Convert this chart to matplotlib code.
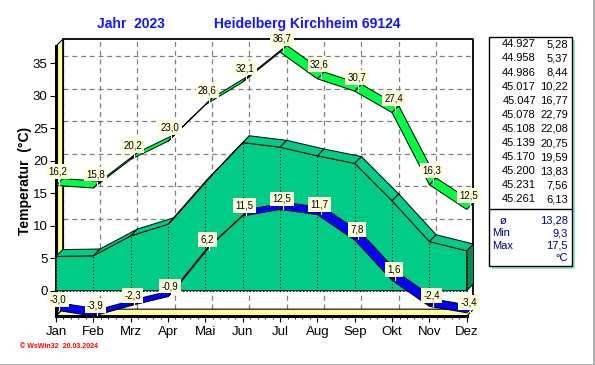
import numpy as np
import matplotlib.pyplot as plt
from matplotlib.patches import Polygon, Rectangle
from matplotlib.lines import Line2D

plt.rcParams['font.family'] = ['Liberation Sans', 'DejaVu Sans']

# ── Data ───────────────────────────────────────────────────────────────────────
months   = ['Jan', 'Feb', 'Mrz', 'Apr', 'Mai', 'Jun', 'Jul', 'Aug', 'Sep', 'Okt', 'Nov', 'Dez']
t_max    = [16.2, 15.8, 20.2, 23.0, 28.6, 32.1, 36.7, 32.6, 30.7, 27.4, 16.3, 12.5]
t_min    = [-3.0, -3.9, -2.3, -0.9, 6.2, 11.5, 12.5, 11.7, 7.8, 1.6, -2.4, -3.4]
t_mean   = [5.28, 5.37, 8.44, 10.22, 16.77, 22.79, 22.08, 20.75, 19.59, 13.83, 7.56, 6.13]
day_nums = ['44.927', '44.958', '44.986', '45.017', '45.047', '45.078',
            '45.108', '45.139', '45.170', '45.200', '45.231', '45.261']
stat_lbl = ['ø', 'Min', 'Max']
stat_val = ['13,28', '9,3', '17,5']

# ── 3D look ────────────────────────────────────────────────────────────────────
DX, DY = 0.18, 1.05          # depth offset (months, degrees)
YBOT, YTOP = -3.89, 38.68
XMAX = 11 + DX

W, H = 595, 365
fig = plt.figure(figsize=(W / 100, H / 100), dpi=100)
ax = fig.add_axes([56 / W, (H - 316) / H, (473.5 - 56) / W, (316 - 39.3) / H])
ax.set_xlim(0, XMAX)
ax.set_ylim(YBOT, YTOP)
for s in ax.spines.values():
    s.set_visible(False)

x = np.arange(12)

# back wall grid
for v in range(0, 40, 5):
    ax.plot([DX, XMAX], [v + DY, v + DY], color='#808080', lw=0.9, ls=(0, (4, 3)), zorder=1)
for m in x:
    ax.plot([m + DX, m + DX], [YBOT + DY, YTOP], color='#808080', lw=0.9, ls=(0, (4, 3)), zorder=1)

# frame of back wall
ax.plot([DX, XMAX, XMAX], [YTOP, YTOP, YBOT + DY], color='black', lw=1.3, zorder=2, clip_on=False)
ax.plot([DX, DX], [YBOT + DY, YTOP], color='black', lw=0.8, zorder=2)

# left wall and floor
ax.add_patch(Polygon([(0, YBOT), (0, YTOP - DY), (DX, YTOP), (DX, YBOT + DY)],
                     fc='#FFFF99', ec='black', lw=0.8, zorder=2, clip_on=False))
ax.add_patch(Polygon([(0, YBOT), (11, YBOT), (XMAX, YBOT + DY), (DX, YBOT + DY)],
                     fc='#FFFF99', ec='black', lw=0.8, zorder=2, clip_on=False))
ax.plot([0, 0], [YBOT, YTOP - DY], color='black', lw=2.2, zorder=3, clip_on=False)
ax.plot([0, 11], [YBOT, YBOT], color='black', lw=2.2, zorder=3, clip_on=False)

# mean area (3D)
front = [(0, 0)] + list(zip(x, t_mean)) + [(11, 0)]
ax.add_patch(Polygon(front, fc='#00CC88', ec='black', lw=0.7, zorder=4))
for i in range(11):
    quad = [(x[i], t_mean[i]), (x[i + 1], t_mean[i + 1]),
            (x[i + 1] + DX, t_mean[i + 1] + DY), (x[i] + DX, t_mean[i] + DY)]
    ax.add_patch(Polygon(quad, fc='#00CC88', ec='black', lw=0.7, zorder=4))
ax.add_patch(Polygon([(11, 0), (11, t_mean[-1]), (XMAX, t_mean[-1] + DY), (XMAX, DY)],
                     fc='#008C55', ec='black', lw=0.7, zorder=4, clip_on=False))
for i in range(12):
    ax.plot([x[i], x[i]], [0, t_mean[i]], color='black', lw=0.8, ls=(0, (1, 2)), zorder=5)
ax.plot([0, 11], [0, 0], color='black', lw=0.8, ls=(0, (1, 2)), zorder=5)


def ribbon(vals, color):
    for i in range(11):
        quad = [(x[i], vals[i]), (x[i + 1], vals[i + 1]),
                (x[i + 1] + DX, vals[i + 1] + DY), (x[i] + DX, vals[i] + DY)]
        ax.add_patch(Polygon(quad, fc=color, ec='black', lw=0.7, zorder=6, clip_on=False))
    for i in range(12):
        ax.plot([x[i] + DX * 0.5, x[i] + DX * 0.5], [vals[i] + 0.1, vals[i] + DY - 0.1],
                color='white', lw=0.8, zorder=7)


ribbon(t_max, '#00FF44')
ribbon(t_min, '#0000FF')


def labels(vals, dy_px):
    for i, v in enumerate(vals):
        ax.annotate(f'{v:.1f}'.replace('.', ','), (x[i], v), xytext=(2, dy_px),
                    textcoords='offset pixels', ha='center', va='center', fontsize=7,
                    bbox=dict(boxstyle='square,pad=0.25', fc='#FFFFDD', ec='none'),
                    zorder=8, annotation_clip=False)


labels(t_max, 14)
labels(t_min, 10.5)

# ticks
ax.set_yticks(range(0, 40, 5))
ax.tick_params(axis='y', direction='out', length=4, width=0.8, labelsize=9.5, pad=2)
ax.set_xticks(x)
ax.set_xticklabels(months)
ax.set_xticks(np.arange(0, 11.01, 0.2), minor=True)
ax.tick_params(axis='x', which='major', direction='out', length=4, width=0.8, labelsize=9.5, pad=3)
ax.tick_params(axis='x', which='minor', direction='out', length=2.5, width=0.6)
ax.tick_params(axis='y', which='minor', length=0)

fig.text(25 / W, 1 - 181 / H, 'Temperatur  (°C)', rotation=90, ha='center', va='center',
         fontsize=10, fontweight='bold')

# titles
fig.text(97 / W, 1 - 24 / H, 'Jahr  2023', ha='left', va='center', fontsize=10,
         fontweight='bold', color='#1414FF')
fig.text(214 / W, 1 - 24 / H, 'Heidelberg Kirchheim 69124', ha='left', va='center',
         fontsize=10, fontweight='bold', color='#1414FF')

# table on the right
fig.add_artist(Rectangle((492 / W, 1 - 269 / H), 83 / W, 229 / H,
                         transform=fig.transFigure, fc='#90EBD0', ec='none'))
fig.add_artist(Rectangle((489 / W, 1 - 266 / H), 83 / W, 229 / H,
                         transform=fig.transFigure, fc='white', ec='black', lw=1))
fig.add_artist(Line2D([489 / W, 572 / W], [1 - 209 / H, 1 - 209 / H], color='black', lw=1))
for i in range(12):
    yy = 1 - (44.3 + i * 14.1) / H
    fig.text(536 / W, yy, day_nums[i], ha='right', va='center', fontsize=8)
    fig.text(568 / W, yy, f'{t_mean[i]:.2f}'.replace('.', ','), ha='right', va='center', fontsize=8)
for i, (lb, vv) in enumerate(zip(stat_lbl, stat_val)):
    yy = 1 - (221 + i * 12.3) / H
    fig.text((500 if lb == 'ø' else 492) / W, yy, lb, ha='left', va='center',
             fontsize=8, color='#000080')
    fig.text(568 / W, yy, vv, ha='right', va='center', fontsize=8, color='#000080')
fig.text(568 / W, 1 - 258 / H, '°C', ha='right', va='center', fontsize=8, color='#000080')

fig.text(20 / W, 1 - 346 / H, '© WsWin32  20.03.2024', ha='left', va='center',
         fontsize=5, fontweight='bold', color='red')

# outer border
fig.add_artist(Line2D([0, 593.5 / W], [0.5 / H, 0.5 / H], color='#A0A0A0', lw=1.2))
fig.add_artist(Line2D([593.5 / W, 593.5 / W], [0, 1], color='#A0A0A0', lw=1.2))

fig.savefig('out.png', dpi=100)
